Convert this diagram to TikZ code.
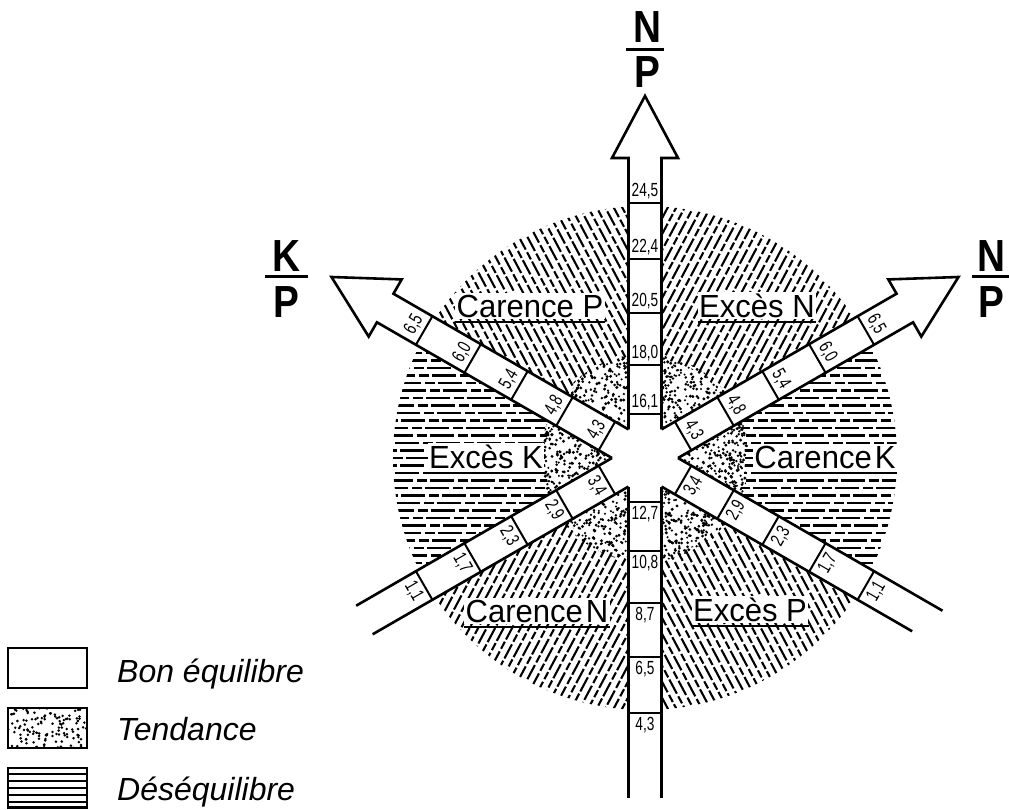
\documentclass[tikz,border=0pt]{standalone}
\usepackage{fontspec}
\setmainfont{Liberation Sans}
\newfontfamily\numfont[FakeStretch=0.72]{Liberation Sans}
\newfontfamily\axfont[FakeStretch=0.86]{Liberation Sans}
\newfontfamily\regfont[FakeStretch=0.97]{Liberation Sans}
\usetikzlibrary{calc}
\newcommand\hatchsector[3]{%
 \begin{scope}
  \clip (0,0) -- (#1:420) -- (#1+30:420) -- (#1+60:420) -- cycle;
  \clip (0,0) circle (252);
  \begin{scope}[rotate=#2]
   \foreach \s in {-270,-262.5,...,270} {
     \pgfmathsetmacro\ph{mod(abs(\s)*13,23)}
     \draw[#3, dash phase=\ph pt] (-280,\s) -- (280,\s);}
  \end{scope}
 \end{scope}}
\newcommand\arrowarm[1]{\draw[edge,rotate=#1] (28.6,-16.5) -- (300,-16.5) -- (300,-33) -- (362,0) -- (300,33) -- (300,16.5) -- (28.6,16.5);}
\newcommand\openarm[3]{\draw[edge,rotate=#1] (28.6,-16.5) -- (#2,-16.5) (28.6,16.5) -- (#3,16.5);}
\newcommand\cells[7]{%
 \begin{scope}[rotate=#1]
  \foreach \d in {44,93,145,199,255} \draw[cellline] (\d,-16.5) -- (\d,16.5);
  \node[num,rotate=#2] at (56,0) {#3};
  \node[num,rotate=#2] at (105,0) {#4};
  \node[num,rotate=#2] at (157,0) {#5};
  \node[num,rotate=#2] at (211,0) {#6};
  \node[num,rotate=#2] at (267,0) {#7};
 \end{scope}}
\begin{document}
\begin{tikzpicture}[x=1pt,y=1pt,
  edge/.style={line width=2.6pt, line join=miter},
  cellline/.style={line width=2pt},
  hatch/.style={line width=2.1pt, dash pattern=on 16pt off 3pt on 8pt off 2.5pt},
  hhatch/.style={line width=2.1pt, dash pattern=on 24pt off 4pt on 10pt off 3pt},
  num/.style={font=\numfont\fontsize{19}{20}\selectfont, inner sep=0pt},
  region/.style={font=\regfont\fontsize{32}{36}\selectfont, inner sep=1.5pt, fill=white, anchor=base},
  uline/.style={line width=2.8pt},
  ax/.style={font=\axfont\bfseries\fontsize{45}{50}\selectfont, inner sep=0pt, anchor=base},
  axbar/.style={line width=3pt},
  legbox/.style={line width=2.4pt},
  legtext/.style={font=\itshape\fontsize{32}{36}\selectfont, inner sep=0pt, anchor=base west}]
\useasboundingbox (-645,-351) rectangle (364,458);
% hatched sectors
\hatchsector{30}{62}{hatch}
\hatchsector{90}{-62}{hatch}
\hatchsector{150}{0}{hhatch}
\hatchsector{210}{62}{hatch}
\hatchsector{270}{-62}{hatch}
\hatchsector{330}{0}{hhatch}
% tendance zone
\fill[white] (0,0) circle (100);
\begin{scope}
 \clip (0,0) circle (104);
 \pgfmathsetseed{12}
 \foreach \k in {1,...,2300} {
   \pgfmathsetmacro\rx{rand*104}
   \pgfmathsetmacro\ry{rand*104}
   \pgfmathsetmacro\rr{1.1+0.6*rnd}
   \fill (\rx,\ry) circle (\rr);}
\end{scope}
% white strips
\foreach \a in {30,90,...,330} \fill[white, rotate=\a] (-20,-16.5) rectangle (265,16.5);
% arms
\arrowarm{90}
\arrowarm{150}
\arrowarm{30}
\openarm{270}{340}{340}
\openarm{210}{324}{324}
\openarm{330}{318}{334}
\cells{90}{0}{16,1}{18,0}{20,5}{22,4}{24,5}
\cells{150}{60}{4,3}{4,8}{5,4}{6,0}{6,5}
\cells{30}{-60}{4,3}{4,8}{5,4}{6,0}{6,5}
\cells{270}{0}{12,7}{10,8}{8,7}{6,5}{4,3}
\cells{210}{-60}{3,4}{2,9}{2,3}{1,7}{1,1}
\cells{330}{60}{3,4}{2,9}{2,3}{1,7}{1,1}
% region labels
\node[region] (cp) at (-115,141) {Carence P};
\node[region] (en) at (112,141) {Excès N};
\node[region] (ek) at (-159,-10) {Excès K};
\node[region] (ck) at (180,-10) {Carence\kern3pt K};
\node[region] (cn) at (-108,-164) {Carence\kern3pt N};
\node[region] (ep) at (105,-163) {Excès P};
\foreach \n in {cp,en,ek,ck,cn,ep}
  \draw[uline] ($(\n.base west)+(0,-5)$) -- ($(\n.base east)+(0,-5)$);
% axis labels
\node[ax] (tn) at (2,415) {N};
\node[ax] (tp) at (2,370) {P};
\draw[axbar] (-19,408) -- (19,408);
\node[ax] (lk) at (-359,186) {K};
\node[ax] (lp) at (-359,141) {P};
\draw[axbar] (-380,181) -- (-337,181);
\node[ax] (rn) at (346,186) {N};
\node[ax] (rp) at (346,141) {P};
\draw[axbar] (327,181) -- (364,181);
% legend
\draw[legbox] (-637,-190) rectangle (-558,-230);
\begin{scope}
 \clip (-637,-250) rectangle (-558,-290);
 \pgfmathsetseed{5}
 \foreach \k in {1,...,120} {
   \pgfmathsetmacro\rx{-597.5+rand*40}
   \pgfmathsetmacro\ry{-270+rand*20}
   \fill (\rx,\ry) circle (1.4);}
\end{scope}
\draw[legbox] (-637,-250) rectangle (-558,-290);
\foreach \y in {-316,-323,-330,-337,-344}
  \draw[line width=1.8pt] (-637,\y) -- (-558,\y);
\draw[legbox] (-637,-310) rectangle (-558,-349.5);
\node[legtext] (l1) at (-528,-224) {Bon équilibre};
\node[legtext] (l2) at (-528,-282) {Tendance};
\node[legtext] (l3) at (-528,-342) {Déséquilibre};
\end{tikzpicture}
\end{document}
